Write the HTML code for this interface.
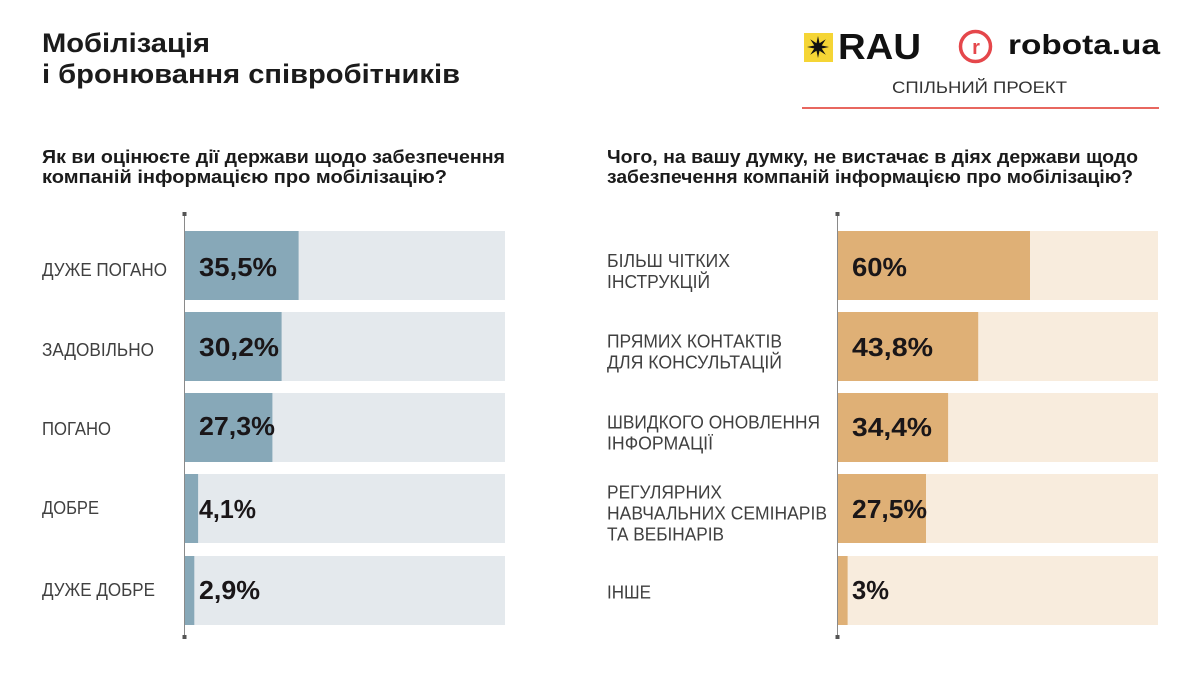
<!DOCTYPE html>
<html><head><meta charset="utf-8"><style>
html,body{margin:0;padding:0;background:#fff;width:1200px;height:675px;overflow:hidden}
svg{display:block}
text{font-family:"Liberation Sans","DejaVu Sans",sans-serif}
.t{font-weight:bold;fill:#1b1b1b}
.lb{font-size:18px;fill:#404040}
.v{font-size:26px;font-weight:bold;fill:#1a1618}
</style></head><body>
<svg width="1200" height="675" viewBox="0 0 1200 675" xmlns="http://www.w3.org/2000/svg">
<rect width="1200" height="675" fill="#fff"/>
<!-- Title -->
<text class="t" x="42" y="52" font-size="27" textLength="168" lengthAdjust="spacingAndGlyphs">Мобілізація</text>
<text class="t" x="42" y="83" font-size="27" textLength="418" lengthAdjust="spacingAndGlyphs">і бронювання співробітників</text>
<!-- Logos -->
<rect x="804" y="33" width="29" height="29" fill="#f5d535"/>
<polygon fill="#111" points="829,47 821.7,48.53 825.78,54.78 819.53,50.7 818,58 816.47,50.7 810.22,54.78 814.3,48.53 807,47 814.3,45.47 810.22,39.22 816.47,43.3 818,36 819.53,43.3 825.78,39.22 821.7,45.47"/>
<text x="838" y="59" font-size="36" font-weight="bold" fill="#111" textLength="83" lengthAdjust="spacingAndGlyphs">RAU</text>
<circle cx="975.5" cy="46.5" r="15" fill="none" stroke="#e5474b" stroke-width="3.5"/>
<text x="976" y="54" font-size="20" font-weight="bold" fill="#e5474b" text-anchor="middle">r</text>
<text x="1008" y="54" font-size="28" font-weight="bold" fill="#111" textLength="152" lengthAdjust="spacingAndGlyphs">robota.ua</text>
<text x="892" y="93" font-size="17" fill="#333" textLength="175" lengthAdjust="spacingAndGlyphs">СПІЛЬНИЙ ПРОЕКТ</text>
<rect x="802" y="107" width="357" height="2" fill="#e8675f"/>
<!-- Subtitles -->
<text class="t" x="42" y="163" font-size="18" textLength="463" lengthAdjust="spacingAndGlyphs">Як ви оцінюєте дії держави щодо забезпечення</text>
<text class="t" x="42" y="183" font-size="18" textLength="405" lengthAdjust="spacingAndGlyphs">компаній інформацією про мобілізацію?</text>
<text class="t" x="607" y="163" font-size="18" textLength="531" lengthAdjust="spacingAndGlyphs">Чого, на вашу думку, не вистачає в діях держави щодо</text>
<text class="t" x="607" y="183" font-size="18" textLength="526" lengthAdjust="spacingAndGlyphs">забезпечення компаній інформацією про мобілізацію?</text>

<!-- Left chart -->
<g>
<rect x="185" y="231" width="320" height="69" fill="#e4e9ed"/>
<rect x="185" y="312" width="320" height="69" fill="#e4e9ed"/>
<rect x="185" y="393" width="320" height="69" fill="#e4e9ed"/>
<rect x="185" y="474" width="320" height="69" fill="#e4e9ed"/>
<rect x="185" y="556" width="320" height="69" fill="#e4e9ed"/>
<rect x="185" y="231" width="113.6" height="69" fill="#87a8b8"/>
<rect x="185" y="312" width="96.6" height="69" fill="#87a8b8"/>
<rect x="185" y="393" width="87.4" height="69" fill="#87a8b8"/>
<rect x="185" y="474" width="13.1" height="69" fill="#87a8b8"/>
<rect x="185" y="556" width="9.3" height="69" fill="#87a8b8"/>
<rect x="184" y="213" width="1" height="424" fill="#8a8a8a"/>
<rect x="182.5" y="212" width="4" height="4" fill="#555"/>
<rect x="182.5" y="635" width="4" height="4" fill="#555"/>
<text class="lb" x="42" y="276" textLength="125" lengthAdjust="spacingAndGlyphs">ДУЖЕ ПОГАНО</text>
<text class="lb" x="42" y="356" textLength="112" lengthAdjust="spacingAndGlyphs">ЗАДОВІЛЬНО</text>
<text class="lb" x="42" y="435" textLength="69" lengthAdjust="spacingAndGlyphs">ПОГАНО</text>
<text class="lb" x="42" y="514" textLength="57" lengthAdjust="spacingAndGlyphs">ДОБРЕ</text>
<text class="lb" x="42" y="596" textLength="113" lengthAdjust="spacingAndGlyphs">ДУЖЕ ДОБРЕ</text>
<text class="v" x="199" y="276" textLength="78" lengthAdjust="spacingAndGlyphs">35,5%</text>
<text class="v" x="199" y="356" textLength="80" lengthAdjust="spacingAndGlyphs">30,2%</text>
<text class="v" x="199" y="435" textLength="76" lengthAdjust="spacingAndGlyphs">27,3%</text>
<text class="v" x="199" y="518" textLength="57" lengthAdjust="spacingAndGlyphs">4,1%</text>
<text class="v" x="199" y="599" textLength="61" lengthAdjust="spacingAndGlyphs">2,9%</text>
</g>

<!-- Right chart -->
<g>
<rect x="838" y="231" width="320" height="69" fill="#f8ecdd"/>
<rect x="838" y="312" width="320" height="69" fill="#f8ecdd"/>
<rect x="838" y="393" width="320" height="69" fill="#f8ecdd"/>
<rect x="838" y="474" width="320" height="69" fill="#f8ecdd"/>
<rect x="838" y="556" width="320" height="69" fill="#f8ecdd"/>
<rect x="838" y="231" width="192" height="69" fill="#dfb076"/>
<rect x="838" y="312" width="140.2" height="69" fill="#dfb076"/>
<rect x="838" y="393" width="110.1" height="69" fill="#dfb076"/>
<rect x="838" y="474" width="88" height="69" fill="#dfb076"/>
<rect x="838" y="556" width="9.6" height="69" fill="#dfb076"/>
<rect x="837" y="213" width="1" height="424" fill="#8a8a8a"/>
<rect x="835.5" y="212" width="4" height="4" fill="#555"/>
<rect x="835.5" y="635" width="4" height="4" fill="#555"/>
<text class="lb" x="607" y="267" textLength="123" lengthAdjust="spacingAndGlyphs">БІЛЬШ ЧІТКИХ</text>
<text class="lb" x="607" y="288" textLength="103" lengthAdjust="spacingAndGlyphs">ІНСТРУКЦІЙ</text>
<text class="lb" x="607" y="347.5" textLength="175" lengthAdjust="spacingAndGlyphs">ПРЯМИХ КОНТАКТІВ</text>
<text class="lb" x="607" y="368.5" textLength="175" lengthAdjust="spacingAndGlyphs">ДЛЯ КОНСУЛЬТАЦІЙ</text>
<text class="lb" x="607" y="428.5" textLength="213" lengthAdjust="spacingAndGlyphs">ШВИДКОГО ОНОВЛЕННЯ</text>
<text class="lb" x="607" y="449.5" textLength="106" lengthAdjust="spacingAndGlyphs">ІНФОРМАЦІЇ</text>
<text class="lb" x="607" y="498.5" textLength="115" lengthAdjust="spacingAndGlyphs">РЕГУЛЯРНИХ</text>
<text class="lb" x="607" y="519.5" textLength="220" lengthAdjust="spacingAndGlyphs">НАВЧАЛЬНИХ СЕМІНАРІВ</text>
<text class="lb" x="607" y="540.5" textLength="117" lengthAdjust="spacingAndGlyphs">ТА ВЕБІНАРІВ</text>
<text class="lb" x="607" y="598.5" textLength="44" lengthAdjust="spacingAndGlyphs">ІНШЕ</text>
<text class="v" x="852" y="276" textLength="55" lengthAdjust="spacingAndGlyphs">60%</text>
<text class="v" x="852" y="356" textLength="81" lengthAdjust="spacingAndGlyphs">43,8%</text>
<text class="v" x="852" y="436" textLength="80" lengthAdjust="spacingAndGlyphs">34,4%</text>
<text class="v" x="852" y="518" textLength="75" lengthAdjust="spacingAndGlyphs">27,5%</text>
<text class="v" x="852" y="599" textLength="37" lengthAdjust="spacingAndGlyphs">3%</text>
</g>
</svg>
</body></html>
